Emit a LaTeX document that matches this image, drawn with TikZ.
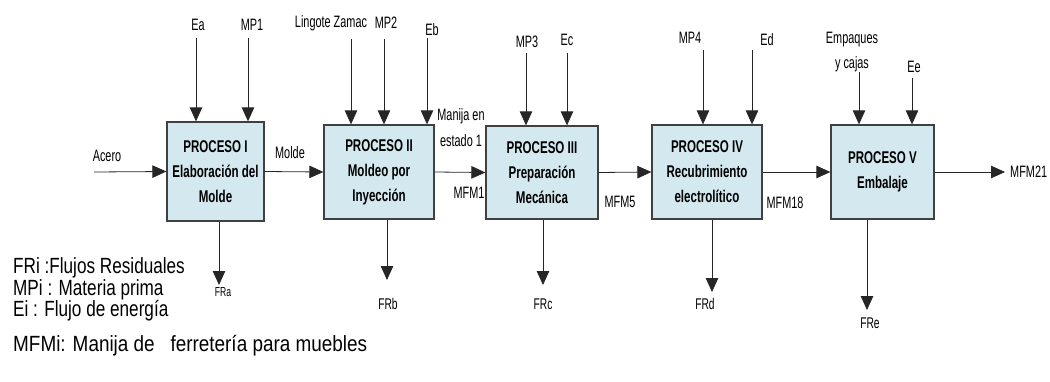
\documentclass[tikz,border=0pt]{standalone}
\usepackage{fontspec}
\setmainfont[FakeStretch=0.66]{Liberation Sans}
\newfontfamily\legfont[FakeStretch=0.78]{Liberation Sans}
\newfontfamily\legwide[FakeStretch=0.86]{Liberation Sans}
\newfontfamily\boxfont[FakeStretch=0.68]{Liberation Sans}
\usetikzlibrary{arrows.meta}
\definecolor{boxfill}{HTML}{D3E9EF}
\tikzset{
  proc/.style={draw=black!75, line width=1.3pt, fill=boxfill, align=center,
    font=\boxfont\fontsize{17}{25}\selectfont\bfseries, inner sep=0pt},
  arr/.style={draw=black!85, line width=0.8pt, -{Triangle[length=14pt,width=12.5pt]}},
  lbl/.style={font=\fontsize{16.5}{19}\selectfont, inner sep=0pt, align=center},
  frl/.style={font=\fontsize{15.5}{17}\selectfont, inner sep=0pt},
  leg/.style={font=\legfont\fontsize{22}{26}\selectfont, inner sep=0pt, anchor=west}
}
\begin{document}
\begin{tikzpicture}[x=1pt,y=-1pt]
\useasboundingbox (0,0) rectangle (1050,381);
% process boxes
\node[proc, minimum width=97pt, minimum height=99pt] (p1) at (215.5,171.5) {PROCESO I\\Elaboración del\\Molde};
\node[proc, minimum width=110pt, minimum height=94pt] (p2) at (379,172) {PROCESO II\\Moldeo por\\Inyección};
\node[proc, minimum width=112pt, minimum height=93pt] (p3) at (542,172.5) {PROCESO III\\Preparación\\Mecánica};
\node[proc, minimum width=110pt, minimum height=94pt] (p4) at (707,172) {PROCESO IV\\Recubrimiento\\electrolítico};
\node[proc, minimum width=103pt, minimum height=94pt] (p5) at (882.5,172) {PROCESO V\\Embalaje};

% inputs from top
\coordinate (ea) at (196,38);
\coordinate (mp1) at (248,38);
\coordinate (lz) at (351,39);
\coordinate (mp2) at (384,39);
\coordinate (eb) at (427,38);
\coordinate (mp3) at (526,53);
\coordinate (ec) at (567,53);
\coordinate (mp4) at (703,50);
\coordinate (ed) at (752,50);
\coordinate (emp) at (859,72);
\coordinate (ee) at (912,78);
\draw[arr] (ea) -- (ea |- p1.north);
\draw[arr] (mp1) -- (mp1 |- p1.north);
\draw[arr] (lz) -- (lz |- p2.north);
\draw[arr] (mp2) -- (mp2 |- p2.north);
\draw[arr] (eb) -- (eb |- p2.north);
\draw[arr] (mp3) -- (mp3 |- p3.north);
\draw[arr] (ec) -- (ec |- p3.north);
\draw[arr] (mp4) -- (mp4 |- p4.north);
\draw[arr] (ed) -- (ed |- p4.north);
\draw[arr] (emp) -- (emp |- p5.north);
\draw[arr] (ee) -- (ee |- p5.north);
\node[lbl] (lea) at (198,25) {Ea};
\node[lbl] (lmp1) at (252,25) {MP1};
\node[lbl] (llz) at (331,23) {Lingote Zamac};
\node[lbl] (lmp2) at (386,23) {MP2};
\node[lbl] (leb) at (432,30) {Eb};
\node[lbl] (lmp3) at (527,42) {MP3};
\node[lbl] (lec) at (567,40) {Ec};
\node[lbl] (lmp4) at (690,38) {MP4};
\node[lbl] (led) at (767,40) {Ed};
\node[lbl] (lemp1) at (852,40) {Empaques};
\node[lbl] (lemp2) at (852,64) {y cajas};
\node[lbl] (lee) at (914,67) {Ee};

% outputs to bottom
\coordinate (fra) at (219,285);
\coordinate (frb) at (387,280);
\coordinate (frc) at (543,285);
\coordinate (frd) at (712,292);
\coordinate (fre) at (867,310);
\draw[arr] (fra |- p1.south) -- (fra);
\draw[arr] (frb |- p2.south) -- (frb);
\draw[arr] (frc |- p3.south) -- (frc);
\draw[arr] (frd |- p4.south) -- (frd);
\draw[arr] (fre |- p5.south) -- (fre);
\node[frl, font=\fontsize{13}{14}\selectfont] (lfra) at (223,292) {FRa};
\node[frl] (lfrb) at (388,304) {FRb};
\node[frl] (lfrc) at (543,304) {FRc};
\node[frl] (lfrd) at (705,304) {FRd};
\node[frl] (lfre) at (870,323) {FRe};

% horizontal flow
\coordinate (acero) at (94,172);
\coordinate (mfm21) at (1005,172);
\draw[arr] (acero) -- (p1.west);
\draw[arr] (p1.east) -- (p2.west);
\draw[arr] (p2.east) -- (p3.west);
\draw[arr] (p3.east) -- (p4.west);
\draw[arr] (p4.east) -- (p5.west);
\draw[arr] (p5.east) -- (mfm21);
\node[lbl] (lacero) at (107,156) {Acero};
\node[lbl] (lmolde) at (290,153) {Molde};
\node[lbl] (lman1) at (461,116) {Manija en};
\node[lbl] (lman2) at (461,141) {estado 1};
\node[lbl] (lmfm1) at (469,193) {MFM1};
\node[lbl] (lmfm5) at (620,202) {MFM5};
\node[lbl] (lmfm18) at (785,203) {MFM18};
\node[lbl, anchor=west] (lmfm21) at (1010,172) {MFM21};

% legend
\node[leg] (g1) at (13,268) {FRi :Flujos Residuales};
\node[leg] (g2) at (13,290) {MPi : Materia prima};
\node[leg] (g3) at (13,311) {Ei : Flujo de energía};
\node[leg, font=\legwide\fontsize{22}{26}\selectfont] (g4) at (13,346) {MFMi: Manija de \ \ ferretería para muebles};
\end{tikzpicture}
\end{document}
